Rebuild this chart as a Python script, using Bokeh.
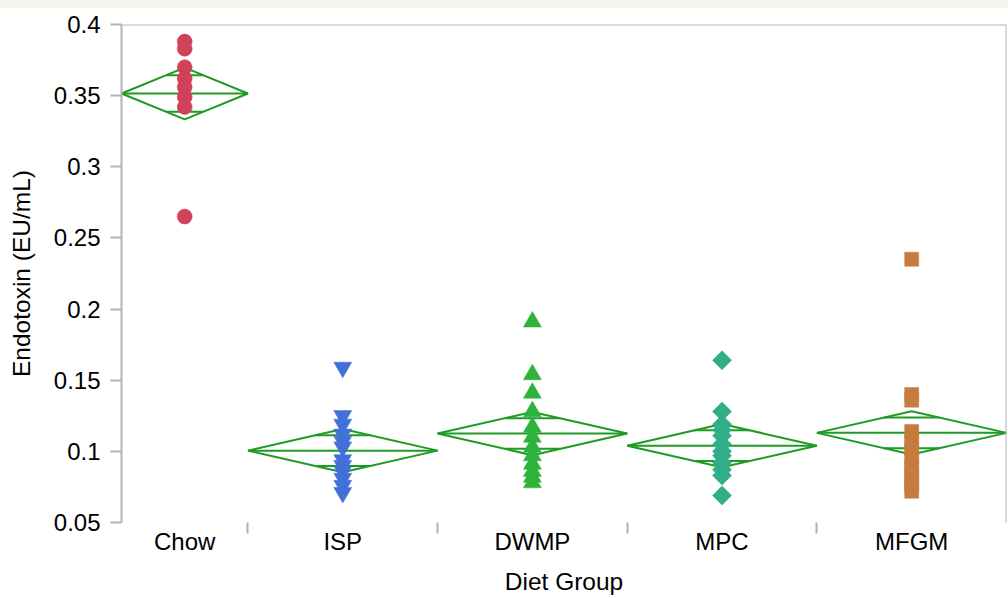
import numpy as np
from bokeh.plotting import figure
from bokeh.models import Range1d, FixedTicker, Span, Div
from bokeh.layouts import column
from bokeh.embed import file_html
from bokeh.resources import INLINE

# Endotoxin measurements by diet group
groups = ["Chow", "ISP", "DWMP", "MPC", "MFGM"]
chow = [0.388, 0.383, 0.370, 0.362, 0.356, 0.349, 0.342, 0.265]
isp = [0.159, 0.125, 0.119, 0.112, 0.107, 0.103, 0.094, 0.090, 0.086, 0.081, 0.076, 0.071]
dwmp = [0.191, 0.154, 0.141, 0.128, 0.117, 0.110, 0.103, 0.097, 0.091, 0.086, 0.082, 0.078]
mpc = [0.164, 0.128, 0.119, 0.115, 0.111, 0.105, 0.100, 0.097, 0.092, 0.087, 0.083, 0.069]
mfgm = [0.235, 0.140, 0.136, 0.114, 0.108, 0.102, 0.096, 0.090, 0.085, 0.080, 0.076, 0.072]

# group means and 95% confidence half-widths (means diamonds)
group_means = [0.3515, 0.1005, 0.1125, 0.1040, 0.1130]
ci_half = [0.0182, 0.0152, 0.0152, 0.0152, 0.0152]

y_ticks = [0.05, 0.1, 0.15, 0.2, 0.25, 0.3, 0.35, 0.4]
y_tick_labels = ["0.05", "0.1", "0.15", "0.2", "0.25", "0.3", "0.35", "0.4"]

values = [chow, isp, dwmp, mpc, mfgm]
markers = [("circle", 15, 0.0), ("inverted_triangle", 18, 0.0), ("triangle", 18, 0.0),
           ("square", 13.5, np.pi / 4), ("square", 14, 0.0)]
colors = ["#d04259", "#4270d8", "#2db23a", "#2fae88", "#c87b3e"]
diamond_color = "#1f9a24"
frame_gray = "#b3b3b3"
font = "Liberation Sans"

# category widths proportional to group size
sizes = [len(v) for v in values]
edges = np.concatenate([[0], np.cumsum(sizes)]).astype(float)
centers = (edges[:-1] + edges[1:]) / 2

p = figure(width=1008, height=590, output_backend="svg", toolbar_location=None,
           x_range=Range1d(edges[0], edges[-1]), y_range=Range1d(y_ticks[0], y_ticks[-1]),
           min_border_left=121, min_border_right=2, min_border_top=16, min_border_bottom=76,
           background_fill_color="white", border_fill_color="white")
p.outline_line_color = None
p.grid.visible = False

# means diamonds, mean lines and overlap marks
k = 1 / np.sqrt(2)
xs, ys = [], []
for i in range(len(groups)):
    L, R, C = edges[i], edges[i + 1], centers[i]
    m, h = group_means[i], ci_half[i]
    xs.append([L, C, R, C, L]); ys.append([m, m + h, m, m - h, m])
    xs.append([L, R]); ys.append([m, m])
    w = (R - L) / 2 * (1 - k)
    xs.append([C - w, C + w]); ys.append([m + h * k, m + h * k])
    xs.append([C - w, C + w]); ys.append([m - h * k, m - h * k])
p.multi_line(xs=xs, ys=ys, line_color=diamond_color, line_width=2)

# individual observations
for i, vals in enumerate(values):
    mk, sz, ang = markers[i]
    p.scatter(x=[centers[i]] * len(vals), y=vals, marker=mk, size=sz, angle=ang,
              fill_color=colors[i], line_color=colors[i], line_width=0.5)

# frame edges on top and right
p.add_layout(Span(location=y_ticks[-1], dimension="width", line_color=frame_gray, line_width=2))
p.add_layout(Span(location=edges[-1], dimension="height", line_color=frame_gray, line_width=2))

# y axis
ya = p.yaxis[0]
ya.ticker = FixedTicker(ticks=y_ticks)
ya.major_label_overrides = {t: s for t, s in zip(y_ticks, y_tick_labels)}
ya.axis_label = "Endotoxin (EU/mL)"
ya.axis_line_color = frame_gray
ya.axis_line_width = 2
ya.major_tick_line_color = frame_gray
ya.major_tick_line_width = 2
ya.major_tick_out = 11
ya.major_tick_in = 0
ya.minor_tick_line_color = None
ya.major_label_standoff = 10
ya.axis_label_standoff = 16

# x axis: group names centred, separators as ticks between groups
xa = p.xaxis[0]
xa.ticker = FixedTicker(ticks=list(centers), minor_ticks=list(edges[1:-1]))
xa.major_label_overrides = {float(c): g for c, g in zip(centers, groups)}
xa.axis_label = "Diet Group"
xa.axis_line_color = None
xa.major_tick_line_color = None
xa.major_tick_out = 0
xa.major_tick_in = 0
xa.minor_tick_line_color = frame_gray
xa.minor_tick_line_width = 2
xa.minor_tick_out = 11
xa.minor_tick_in = 0
xa.major_label_standoff = -6
xa.axis_label_standoff = 10

for ax in (xa, ya):
    ax.major_label_text_font = font
    ax.major_label_text_font_size = "24px"
    ax.major_label_text_color = "black"
    ax.axis_label_text_font = font
    ax.axis_label_text_font_size = "24.5px"
    ax.axis_label_text_font_style = "normal"
    ax.axis_label_text_color = "black"

strip = Div(text="", width=1008, height=8, margin=(0, 0, 0, 0),
            styles={"background-color": "#f5f5ef"})
layout = column(strip, p, spacing=0, margin=(0, 0, 0, 0))

open("out.html", "w").write(file_html(layout, INLINE))
